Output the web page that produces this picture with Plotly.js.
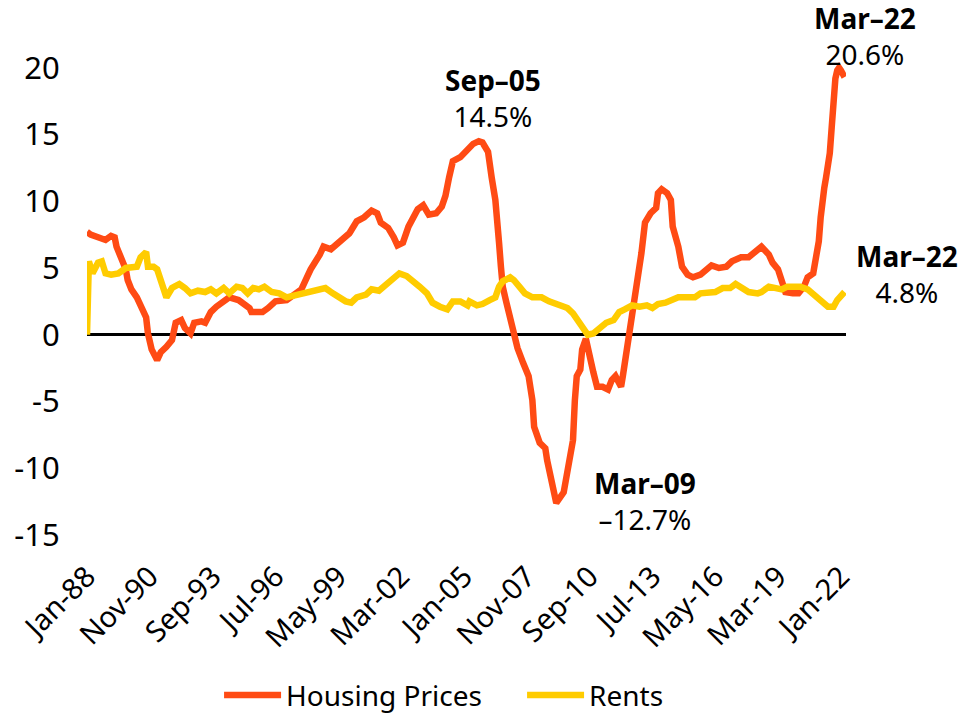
<!DOCTYPE html>
<html>
<head>
<meta charset="utf-8">
<script src="https://cdn.plot.ly/plotly-3.0.1.min.js"></script>
<style>html,body{margin:0;padding:0;background:#fff;}#chart{width:964px;height:715px;}</style>
</head>
<body>
<div id="chart"></div>
<script>
// Housing prices (YoY %)
const housingDates = ["1988-01","1988-03","1988-07","1988-11","1989-02","1989-04","1989-05","1989-07","1989-10","1989-11",
"1990-01","1990-04","1990-06","1990-09","1990-10","1990-12","1991-03","1991-05","1991-08","1991-11",
"1992-01","1992-04","1992-06","1992-09","1992-11","1993-03","1993-05","1993-08","1993-11","1993-12",
"1994-06","1994-11","1995-05","1995-06","1995-12","1996-03","1996-07","1997-01","1997-06","1997-09",
"1997-12","1998-02","1998-07","1998-09","1999-01","1999-05","1999-11","2000-03","2000-07","2000-11",
"2001-02","2001-04","2001-08","2001-11","2002-01","2002-04","2002-07","2002-12","2003-03","2003-06",
"2003-10","2004-01","2004-03","2004-05","2004-07","2004-11","2005-03","2005-06","2005-09","2005-11",
"2006-02","2006-03","2006-04","2006-06","2006-07","2006-08","2006-09","2006-10","2006-12","2007-03",
"2007-06","2007-09","2007-12","2008-02","2008-03","2008-06","2008-09","2008-10","2009-01","2009-03",
"2009-07","2009-09","2009-12","2010-01","2010-02","2010-04","2010-05","2010-07","2010-08","2010-11",
"2011-01","2011-04","2011-07","2011-09","2011-11","2012-02","2012-03","2012-05","2012-08","2012-11",
"2013-01","2013-03","2013-06","2013-09","2013-10","2013-12","2014-03","2014-05","2014-06","2014-09",
"2014-11","2015-02","2015-05","2015-09","2015-12","2016-03","2016-07","2016-11","2017-02","2017-07",
"2017-11","2018-02","2018-06","2018-10","2018-12","2019-03","2019-05","2019-07","2019-11","2020-02",
"2020-05","2020-07","2020-10","2020-12","2021-01","2021-02","2021-03","2021-04","2021-05","2021-06",
"2021-07","2021-08","2021-09","2021-10","2021-11","2021-12","2022-01","2022-02","2022-03"];
const housingValues = [7.7,7.5,7.3,7.1,7.4,7.3,6.6,5.9,4.9,4.1,
3.4,2.8,2.1,1.3,0.1,-1.1,-1.9,-1.3,-0.9,-0.4,
0.9,1.1,0.5,0.1,0.9,1.0,0.9,1.7,2.1,2.2,
2.8,2.6,2.0,1.7,1.7,2.0,2.5,2.6,3.1,3.4,
4.3,4.9,6.0,6.6,6.4,6.9,7.6,8.5,8.8,9.3,
9.1,8.4,8.0,7.3,6.7,6.9,8.1,9.4,9.7,9.0,
9.1,9.6,10.4,11.8,13.0,13.3,13.9,14.3,14.5,14.4,
13.7,12.6,11.8,10.1,9.0,6.9,5.1,3.6,2.4,0.8,
-1.0,-2.1,-3.1,-4.9,-6.9,-8.1,-8.5,-9.4,-11.1,-12.6,
-11.8,-9.9,-7.9,-4.9,-3.1,-2.6,-1.1,-0.3,-1.1,-2.8,
-3.9,-3.9,-4.1,-3.4,-3.1,-3.9,-3.1,-1.3,1.1,3.6,
6.1,8.4,9.1,9.5,10.6,10.9,10.6,10.1,8.1,6.6,
5.1,4.5,4.3,4.5,4.9,5.2,5.0,5.1,5.5,5.8,
5.8,6.2,6.6,6.0,5.4,4.9,3.9,3.2,3.1,3.1,
3.6,4.3,4.6,5.9,7.0,8.8,10.4,11.0,11.8,12.6,
13.6,15.5,17.7,19.2,19.8,20.0,19.8,19.5,19.3];

// Rents (YoY %)
const rentDates = ["1988-01","1988-02","1988-04","1988-07","1988-09","1988-11","1989-02","1989-06","1989-10","1990-01",
"1990-04","1990-06","1990-09","1990-10","1991-01","1991-03","1991-05","1991-07","1991-08","1991-11",
"1992-03","1992-06","1992-09","1993-01","1993-05","1993-08","1993-11","1994-03","1994-06","1994-10",
"1995-01","1995-04","1995-07","1995-10","1996-01","1996-05","1996-09","1997-01","1997-04","1997-08",
"1998-01","1998-05","1998-10","1999-02","1999-05","1999-09","1999-12","2000-03","2000-08","2000-11",
"2001-03","2001-07","2001-10","2002-02","2002-06","2002-10","2003-01","2003-05","2003-08","2003-12",
"2004-04","2004-07","2004-11","2005-03","2005-04","2005-08","2005-11","2006-03","2006-06","2006-08",
"2006-10","2007-02","2007-04","2007-07","2007-10","2008-02","2008-07","2008-11","2009-05","2009-09",
"2009-12","2010-03","2010-05","2010-08","2010-11","2011-03","2011-06","2011-10","2012-01","2012-04",
"2012-08","2012-12","2013-04","2013-07","2013-10","2014-02","2014-06","2014-09","2015-02","2015-06",
"2015-09","2016-01","2016-05","2016-09","2017-01","2017-04","2017-07","2017-11","2018-04","2018-06",
"2018-10","2019-01","2019-05","2019-08","2019-12","2020-03","2020-07","2020-10","2021-02","2021-06",
"2021-09","2021-11","2022-03"];
const rentValues = [0.0,5.5,4.6,5.4,5.5,4.6,4.5,4.6,5.0,5.1,
5.1,5.8,6.2,5.1,5.1,4.9,4.1,3.4,2.8,3.5,
3.8,3.5,3.1,3.3,3.2,3.4,3.1,3.5,3.1,3.6,
3.5,3.1,3.5,3.4,3.6,3.2,3.1,2.8,2.9,3.0,
3.1,3.3,3.5,3.1,2.8,2.5,2.4,2.8,3.0,3.4,
3.3,3.8,4.2,4.6,4.4,4.0,3.6,3.1,2.4,2.1,
1.9,2.5,2.5,2.2,2.5,2.2,2.3,2.6,2.8,3.6,
4.0,4.3,4.1,3.6,3.1,2.8,2.8,2.5,2.2,2.0,
1.6,1.0,0.4,0.0,0.1,0.5,0.9,1.1,1.7,1.9,
2.2,2.1,2.2,2.0,2.3,2.4,2.6,2.8,2.8,2.8,
3.1,3.2,3.2,3.5,3.5,3.8,3.5,3.2,3.1,3.2,
3.6,3.5,3.4,3.6,3.6,3.6,3.4,3.0,2.6,2.1,
2.1,2.6,3.2];

const xTickDates = ["1988-01","1990-11","1993-09","1996-07","1999-05","2002-03","2005-01","2007-11","2010-09","2013-07","2016-05","2019-03","2022-01"];
const xTickLabels = ["Jan-88","Nov-90","Sep-93","Jul-96","May-99","Mar-02","Jan-05","Nov-07","Sep-10","Jul-13","May-16","Mar-19","Jan-22"];
const yTickVals = [-15,-10,-5,0,5,10,15,20];
const yTickLabels = ["-15","-10","-5","0","5","10","15","20"];

const FONT = "'Noto Sans', sans-serif";

const traces = [
  {x: housingDates, y: housingValues, type:'scatter', mode:'lines', name:'Housing Prices',
   line:{color:'#FF4B14', width:6.5}},
  {x: rentDates, y: rentValues, type:'scatter', mode:'lines', name:'Rents',
   line:{color:'#FFCC00', width:6.5}}
];

function lab(x, y, title, value) {
  return {xref:'paper', yref:'paper', x:x, y:y, xanchor:'center', yanchor:'middle', showarrow:false,
    text:'<b>' + title + '</b><br>' + value, font:{family:FONT, size:28, color:'#000'}};
}

const layout = {
  width:964, height:715,
  margin:{l:87, r:118, t:1, b:180, autoexpand:false},
  paper_bgcolor:'#fff', plot_bgcolor:'#fff',
  font:{family:FONT, size:29, color:'#000'},
  xaxis:{type:'date', range:['1988-01-01','2022-03-25'], tickmode:'array', tickvals:xTickDates, ticktext:xTickLabels,
    tickangle:-45, ticks:'outside', ticklen:12, tickcolor:'rgba(0,0,0,0)', showgrid:false, zeroline:false, showline:false,
    automargin:false, tickfont:{family:FONT, size:29, color:'#000'}},
  yaxis:{range:[-15,25], tickmode:'array', tickvals:yTickVals, ticktext:yTickLabels, ticks:'outside', ticklen:20,
    tickcolor:'rgba(0,0,0,0)', showgrid:false, zeroline:true, zerolinecolor:'#000', zerolinewidth:3, showline:false,
    automargin:false, tickfont:{family:FONT, size:31, color:'#000'}},
  showlegend:true,
  legend:{orientation:'h', x:0.174, xanchor:'left', y:-0.3, yanchor:'middle', font:{family:FONT, size:28, color:'#000'},
    bgcolor:'rgba(0,0,0,0)', itemwidth:57, entrywidth:231, entrywidthmode:'pixels'},
  annotations:[
    lab(0.535, 0.818, 'Sep–05', '14.5%'),
    lab(0.735, 0.064, 'Mar–09', '–12.7%'),
    lab(1.025, 0.934, 'Mar–22', '20.6%'),
    lab(1.080, 0.489, 'Mar–22', '4.8%')
  ]
};

Plotly.newPlot('chart', traces, layout, {displayModeBar:false, staticPlot:true});
</script>
</body>
</html>
